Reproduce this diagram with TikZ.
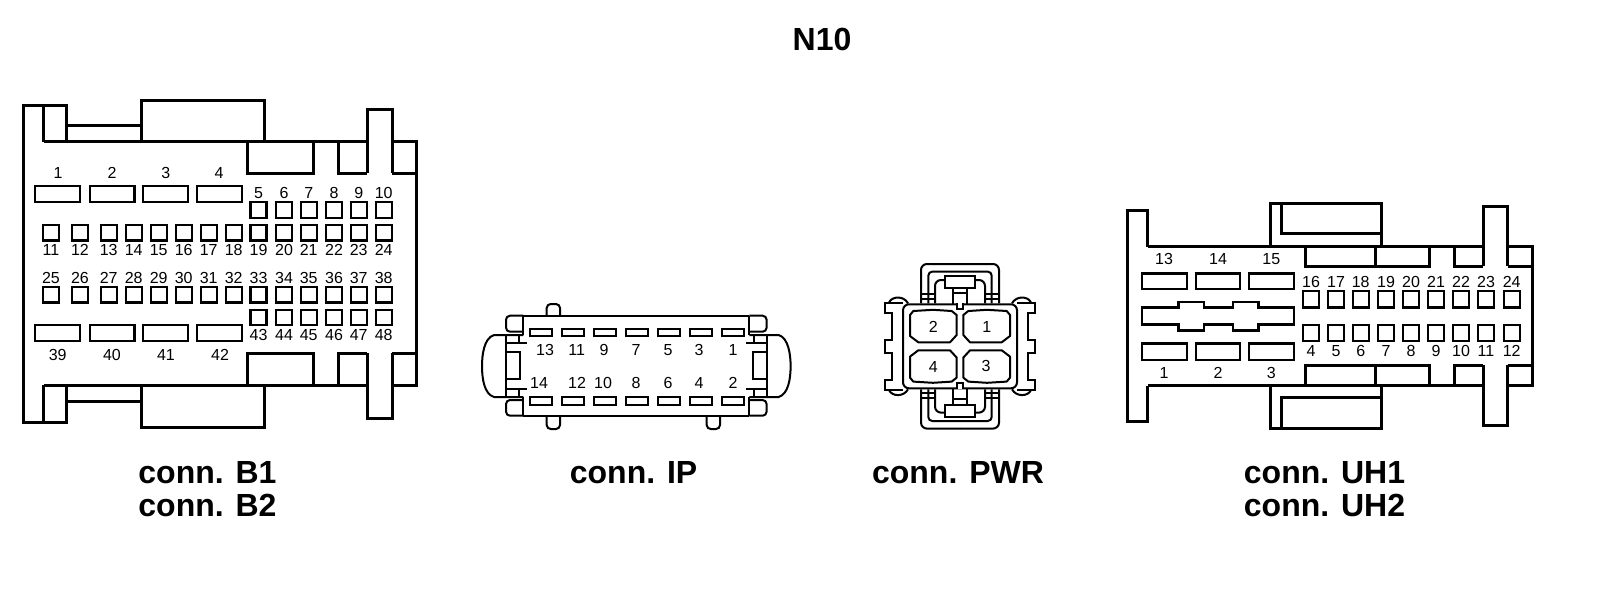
\documentclass[tikz,border=0pt]{standalone}
\usepackage{fontspec}
\setmainfont{Liberation Sans}

\tikzset{
  heavy/.style={line width=1.5pt, line join=miter},
  medium/.style={line width=1pt},
  slot/.style={line width=1.2pt, fill=white},
  pinno/.style={font=\fontsize{8}{8}\selectfont, inner sep=0pt},
  connname/.style={font=\fontsize{16}{16}\selectfont\bfseries, inner sep=0pt}
}

% one end of the IP shell, mirrored for the other end
\newcommand{\ipend}{
  \draw[medium, rounded corners=2pt] (523.3,331.7) -- (506,331.7) -- (506,315.7) -- (523.3,315.7);
  \draw[medium, rounded corners=2pt] (523.3,400) -- (506,400) -- (506,415.7) -- (523.3,415.7);
  \draw[medium] (523.3,315.7) -- (636.3,315.7);
  \draw[medium] (523.3,415.7) -- (636.3,415.7);
  \draw[medium] (523.3,315.7) -- (523.3,335);
  \draw[medium] (523.3,397) -- (523.3,415.7);
  \draw[medium] (506,335) -- (506,397);
  \draw[medium] (523.3,335) -- (494,335) .. controls (484,338) and (482,355) .. (482,366)
    .. controls (482,378) and (484,394) .. (494,397) -- (523.3,397);
  \draw[medium] (519,335) -- (519,343.3);
  \draw[medium] (506,343.3) -- (526.7,343.3);
  \draw[medium] (506,351.7) -- (520,351.7) -- (520,379.3) -- (506,379.3);
  \draw[medium] (506,389) -- (526.7,389);
  \draw[medium] (519,389) -- (519,397);
}

% one quarter of the PWR shell, around its centre
\newcommand{\pwrquarter}{
  \draw[medium] (-75,0) -- (-75,-6.3) -- (-68.3,-6.3) -- (-68.3,-33.7) -- (-75,-33.7) -- (-75,-43.7) -- (-57,-43.7);
  \draw[medium] (-71,-43.7) .. controls (-68,-50.6) and (-56,-50.6) .. (-52,-43);
  \draw[medium, rounded corners=3pt] (-39,-43) -- (-39,-82.3) -- (0,-82.3);
  \draw[medium, rounded corners=2pt] (-31.7,-43) -- (-31.7,-74.7) -- (0,-74.7);
  \draw[medium, rounded corners=3pt] (-25,-43) -- (-25,-66.3) -- (-15,-66.3);
  \draw[medium] (-39,-52) -- (-25,-52);
  \draw[medium] (-39,-47) -- (-25,-47);
  \draw[medium] (0,-70.3) -- (-15,-70.3) -- (-15,-58.7) -- (0,-58.7);
  \draw[medium] (-7.3,-58.7) -- (-7.3,-42);
  \draw[medium] (-7.3,-53) -- (0,-53);
}

\newcommand{\pwrcavity}{
  \draw[medium, line join=round] (-50,-31.3) -- (-46.7,-35.3) -- (-27,-36.5) -- (-8.3,-35.3) -- (-3.3,-31.3)
    -- (-3.3,-11.3) -- (-10,-4) -- (-41.7,-4) -- (-50,-10.3) -- cycle;
}

\begin{document}
\begin{tikzpicture}[x=0.5pt,y=-0.5pt]
\useasboundingbox (0,0) rectangle (1600,606);

\node[connname] (title) at (822,39) {N10};

% conn. B
\draw[heavy] (43.5,141.7) -- (416.7,141.7) -- (416.7,385) -- (43.5,385);
\draw[heavy] (43.5,141.7) -- (43.5,105);
\draw[heavy] (66,141.7) -- (66,105) -- (23.5,105) -- (23.5,422) -- (66,422) -- (66,385);
\draw[heavy] (43.5,385) -- (43.5,422);
\draw[heavy] (66,125) -- (141.7,125);
\draw[heavy] (66,401.7) -- (141.7,401.7);
\draw[heavy] (141.7,141.7) -- (141.7,100) -- (264,100) -- (264,141.7);
\draw[heavy] (141.7,385) -- (141.7,427) -- (264,427) -- (264,385);
\draw[heavy] (247,141.7) -- (247,173) -- (313.7,173) -- (313.7,141.7);
\draw[heavy] (247,385) -- (247,353) -- (313.7,353) -- (313.7,385);
\draw[heavy] (338,141.7) -- (338,173) -- (367,173);
\draw[heavy] (338,385) -- (338,353) -- (367,353);
\draw[heavy] (392,173) -- (416.7,173);
\draw[heavy] (392,353) -- (416.7,353);
\draw[heavy, fill=white] (367,173) -- (367,109) -- (392,109) -- (392,173);
\draw[heavy, fill=white] (367,353) -- (367,418) -- (392,418) -- (392,353);

\draw[slot] (35,186) rectangle (80,202);
\draw[slot] (90,186) rectangle (134.5,202);
\draw[slot] (143,186) rectangle (188,202);
\draw[slot] (197,186) rectangle (242,202);
\draw[slot] (35,325) rectangle (80,341);
\draw[slot] (90,325) rectangle (134.5,341);
\draw[slot] (143,325) rectangle (188,341);
\draw[slot] (197,325) rectangle (242,341);

\draw[slot] (250.5,201.7) rectangle ++(16,16);
\draw[slot] (276,201.7) rectangle ++(16,16);
\draw[slot] (300.7,201.7) rectangle ++(16,16);
\draw[slot] (326,201.7) rectangle ++(16,16);
\draw[slot] (350.7,201.7) rectangle ++(16,16);
\draw[slot] (375.7,201.7) rectangle ++(16,16);

\draw[slot] (43,225) rectangle ++(16,15.5);
\draw[slot] (72,225) rectangle ++(16,15.5);
\draw[slot] (100.7,225) rectangle ++(16,15.5);
\draw[slot] (125.7,225) rectangle ++(16,15.5);
\draw[slot] (150.7,225) rectangle ++(16,15.5);
\draw[slot] (175.7,225) rectangle ++(16,15.5);
\draw[slot] (200.7,225) rectangle ++(16,15.5);
\draw[slot] (225.7,225) rectangle ++(16,15.5);
\draw[slot] (250.5,225) rectangle ++(16,15.5);
\draw[slot] (276,225) rectangle ++(16,15.5);
\draw[slot] (300.7,225) rectangle ++(16,15.5);
\draw[slot] (326,225) rectangle ++(16,15.5);
\draw[slot] (350.7,225) rectangle ++(16,15.5);
\draw[slot] (375.7,225) rectangle ++(16,15.5);

\draw[slot] (43,287) rectangle ++(16,15.5);
\draw[slot] (72,287) rectangle ++(16,15.5);
\draw[slot] (100.7,287) rectangle ++(16,15.5);
\draw[slot] (125.7,287) rectangle ++(16,15.5);
\draw[slot] (150.7,287) rectangle ++(16,15.5);
\draw[slot] (175.7,287) rectangle ++(16,15.5);
\draw[slot] (200.7,287) rectangle ++(16,15.5);
\draw[slot] (225.7,287) rectangle ++(16,15.5);
\draw[slot] (250.5,287) rectangle ++(16,15.5);
\draw[slot] (276,287) rectangle ++(16,15.5);
\draw[slot] (300.7,287) rectangle ++(16,15.5);
\draw[slot] (326,287) rectangle ++(16,15.5);
\draw[slot] (350.7,287) rectangle ++(16,15.5);
\draw[slot] (375.7,287) rectangle ++(16,15.5);

\draw[slot] (250.5,310) rectangle ++(16,15);
\draw[slot] (276,310) rectangle ++(16,15);
\draw[slot] (300.7,310) rectangle ++(16,15);
\draw[slot] (326,310) rectangle ++(16,15);
\draw[slot] (350.7,310) rectangle ++(16,15);
\draw[slot] (375.7,310) rectangle ++(16,15);

\node[pinno] (b1) at (58,173) {1};
\node[pinno] (b2) at (112,173) {2};
\node[pinno] (b3) at (165.7,173) {3};
\node[pinno] (b4) at (219,173) {4};
\node[pinno] (b5) at (258.5,192.7) {5};
\node[pinno] (b6) at (284,192.7) {6};
\node[pinno] (b7) at (308.7,192.7) {7};
\node[pinno] (b8) at (334,192.7) {8};
\node[pinno] (b9) at (358.7,192.7) {9};
\node[pinno] (b10) at (383.7,192.7) {10};
\node[pinno] (b11) at (51,250) {11};
\node[pinno] (b12) at (80,250) {12};
\node[pinno] (b13) at (108.7,250) {13};
\node[pinno] (b14) at (133.7,250) {14};
\node[pinno] (b15) at (158.7,250) {15};
\node[pinno] (b16) at (183.7,250) {16};
\node[pinno] (b17) at (208.7,250) {17};
\node[pinno] (b18) at (233.7,250) {18};
\node[pinno] (b19) at (258.5,250) {19};
\node[pinno] (b20) at (284,250) {20};
\node[pinno] (b21) at (308.7,250) {21};
\node[pinno] (b22) at (334,250) {22};
\node[pinno] (b23) at (358.7,250) {23};
\node[pinno] (b24) at (383.7,250) {24};
\node[pinno] (b25) at (51,278) {25};
\node[pinno] (b26) at (80,278) {26};
\node[pinno] (b27) at (108.7,278) {27};
\node[pinno] (b28) at (133.7,278) {28};
\node[pinno] (b29) at (158.7,278) {29};
\node[pinno] (b30) at (183.7,278) {30};
\node[pinno] (b31) at (208.7,278) {31};
\node[pinno] (b32) at (233.7,278) {32};
\node[pinno] (b33) at (258.5,278) {33};
\node[pinno] (b34) at (284,278) {34};
\node[pinno] (b35) at (308.7,278) {35};
\node[pinno] (b36) at (334,278) {36};
\node[pinno] (b37) at (358.7,278) {37};
\node[pinno] (b38) at (383.7,278) {38};
\node[pinno] (b39) at (57.7,355) {39};
\node[pinno] (b40) at (112,355) {40};
\node[pinno] (b41) at (166,355) {41};
\node[pinno] (b42) at (220,355) {42};
\node[pinno] (b43) at (258.5,335) {43};
\node[pinno] (b44) at (284,335) {44};
\node[pinno] (b45) at (308.7,335) {45};
\node[pinno] (b46) at (334,335) {46};
\node[pinno] (b47) at (358.7,335) {47};
\node[pinno] (b48) at (383.7,335) {48};

\node[connname] (connb1) at (207.5,473) {conn. B1};
\node[connname] (connb2) at (207.5,505) {conn. B2};

% conn. IP
\draw[medium, rounded corners=2pt] (546.7,315.7) -- (546.7,304) -- (560,304) -- (560,315.7);
\draw[medium, rounded corners=2pt] (546.7,415.7) -- (546.7,429) -- (560,429) -- (560,415.7);
\draw[medium, rounded corners=2pt] (706.7,415.7) -- (706.7,429) -- (720,429) -- (720,415.7);
\ipend
\begin{scope}[shift={(1272.6,0)},xscale=-1]
\ipend
\end{scope}

\draw[medium] (530,329) rectangle ++(21.7,6.7);
\draw[medium] (562,329) rectangle ++(21.7,6.7);
\draw[medium] (594,329) rectangle ++(21.7,6.7);
\draw[medium] (626,329) rectangle ++(21.7,6.7);
\draw[medium] (658,329) rectangle ++(21.7,6.7);
\draw[medium] (690,329) rectangle ++(21.7,6.7);
\draw[medium] (722,329) rectangle ++(21.7,6.7);
\draw[medium] (530,396.7) rectangle ++(21.7,8.3);
\draw[medium] (562,396.7) rectangle ++(21.7,8.3);
\draw[medium] (594,396.7) rectangle ++(21.7,8.3);
\draw[medium] (626,396.7) rectangle ++(21.7,8.3);
\draw[medium] (658,396.7) rectangle ++(21.7,8.3);
\draw[medium] (690,396.7) rectangle ++(21.7,8.3);
\draw[medium] (722,396.7) rectangle ++(21.7,8.3);

\node[pinno] (ip13) at (545,350) {13};
\node[pinno] (ip11) at (576.7,350) {11};
\node[pinno] (ip9) at (604,350) {9};
\node[pinno] (ip7) at (636,350) {7};
\node[pinno] (ip5) at (668,350) {5};
\node[pinno] (ip3) at (699,350) {3};
\node[pinno] (ip1) at (733,350) {1};
\node[pinno] (ip14) at (539,383) {14};
\node[pinno] (ip12) at (577,383) {12};
\node[pinno] (ip10) at (603,383) {10};
\node[pinno] (ip8) at (636,383) {8};
\node[pinno] (ip6) at (668,383) {6};
\node[pinno] (ip4) at (699,383) {4};
\node[pinno] (ip2) at (733,383) {2};

\node[connname] (connip) at (633.6,473) {conn. IP};

% conn. PWR
\begin{scope}[shift={(960,346.3)}]
\pwrquarter
\begin{scope}[xscale=-1] \pwrquarter \end{scope}
\begin{scope}[yscale=-1] \pwrquarter \end{scope}
\begin{scope}[xscale=-1,yscale=-1] \pwrquarter \end{scope}
\draw[medium, fill=white, rounded corners=3pt] (-57,-42) rectangle (57,42);
\fill[white] (-2.8,-43) rectangle (2.8,-37.5);
\fill[white] (-2.8,43) rectangle (2.8,37.5);
\draw[medium] (-3.3,-43) -- (-3.3,-37) -- (3.3,-37) -- (3.3,-43);
\draw[medium] (-3.3,43) -- (-3.3,37) -- (3.3,37) -- (3.3,43);
\pwrcavity
\begin{scope}[xscale=-1] \pwrcavity \end{scope}
\begin{scope}[yscale=-1] \pwrcavity \end{scope}
\begin{scope}[xscale=-1,yscale=-1] \pwrcavity \end{scope}
\end{scope}

\node[pinno] (pwr2) at (933.3,326.7) {2};
\node[pinno] (pwr1) at (986.7,326.7) {1};
\node[pinno] (pwr4) at (933.3,366.7) {4};
\node[pinno] (pwr3) at (986,366) {3};

\node[connname] (connpwr) at (958,473) {conn. PWR};

% conn. UH
\draw[heavy] (1147.7,246.7) -- (1532.3,246.7) -- (1532.3,385.7) -- (1147.7,385.7);
\draw[heavy] (1147.7,246.7) -- (1147.7,210) -- (1127.7,210) -- (1127.7,421) -- (1147.7,421) -- (1147.7,385.7);
\draw[heavy] (1270,246.7) -- (1270,203.3) -- (1381,203.3) -- (1381,246.7);
\draw[heavy] (1281.7,203.3) -- (1281.7,233.3) -- (1381,233.3);
\draw[heavy] (1270,385.7) -- (1270,428.3) -- (1381,428.3) -- (1381,385.7);
\draw[heavy] (1281.7,428.3) -- (1281.7,397.3) -- (1381,397.3);
\draw[heavy] (1305.7,246.7) -- (1305.7,266) -- (1429.3,266) -- (1429.3,246.7);
\draw[heavy] (1375.7,246.7) -- (1375.7,266);
\draw[heavy] (1305.7,385.7) -- (1305.7,365) -- (1429.3,365) -- (1429.3,385.7);
\draw[heavy] (1375.7,385.7) -- (1375.7,365);
\draw[heavy] (1454,246.7) -- (1454,266) -- (1483.3,266);
\draw[heavy] (1454,385.7) -- (1454,365) -- (1483.3,365);
\draw[heavy] (1507.7,266) -- (1532.3,266);
\draw[heavy] (1507.7,365) -- (1532.3,365);
\draw[heavy, fill=white] (1483.3,266) -- (1483.3,206) -- (1507.7,206) -- (1507.7,266);
\draw[heavy, fill=white] (1483.3,365) -- (1483.3,425.7) -- (1507.7,425.7) -- (1507.7,365);

\draw[slot] (1141.7,273.3) rectangle (1186.7,289);
\draw[slot] (1195.7,273.3) rectangle (1240,289);
\draw[slot] (1249,273.3) rectangle (1294,289);
\draw[slot] (1141.7,343.3) rectangle (1186.7,360);
\draw[slot] (1195.7,343.3) rectangle (1240,360);
\draw[slot] (1249,343.3) rectangle (1294,360);
\draw[slot] (1141.7,307.3) -- (1178.3,307.3) -- (1178.3,301.7) -- (1204,301.7) -- (1204,307.3) -- (1232.7,307.3)
  -- (1232.7,301.7) -- (1258.3,301.7) -- (1258.3,307.3) -- (1294,307.3) -- (1294,324.3) -- (1258.3,324.3)
  -- (1258.3,330.3) -- (1232.7,330.3) -- (1232.7,324.3) -- (1204,324.3) -- (1204,330.3) -- (1178.3,330.3)
  -- (1178.3,324.3) -- (1141.7,324.3) -- cycle;

\draw[slot] (1303,291) rectangle ++(16,16.3);
\draw[slot] (1328,291) rectangle ++(16,16.3);
\draw[slot] (1352.7,291) rectangle ++(16,16.3);
\draw[slot] (1378,291) rectangle ++(16,16.3);
\draw[slot] (1403,291) rectangle ++(16,16.3);
\draw[slot] (1428,291) rectangle ++(16,16.3);
\draw[slot] (1453,291) rectangle ++(16,16.3);
\draw[slot] (1478,291) rectangle ++(16,16.3);
\draw[slot] (1503.7,291) rectangle ++(16,16.3);
\draw[slot] (1303,325) rectangle ++(16,15.7);
\draw[slot] (1328,325) rectangle ++(16,15.7);
\draw[slot] (1352.7,325) rectangle ++(16,15.7);
\draw[slot] (1378,325) rectangle ++(16,15.7);
\draw[slot] (1403,325) rectangle ++(16,15.7);
\draw[slot] (1428,325) rectangle ++(16,15.7);
\draw[slot] (1453,325) rectangle ++(16,15.7);
\draw[slot] (1478,325) rectangle ++(16,15.7);
\draw[slot] (1503.7,325) rectangle ++(16,15.7);

\node[pinno] (uh1) at (1164,372.7) {1};
\node[pinno] (uh2) at (1218,372.7) {2};
\node[pinno] (uh3) at (1271.3,372.7) {3};
\node[pinno] (uh4) at (1311,350.7) {4};
\node[pinno] (uh5) at (1336,350.7) {5};
\node[pinno] (uh6) at (1360.7,350.7) {6};
\node[pinno] (uh7) at (1386,350.7) {7};
\node[pinno] (uh8) at (1411,350.7) {8};
\node[pinno] (uh9) at (1436,350.7) {9};
\node[pinno] (uh10) at (1461,350.7) {10};
\node[pinno] (uh11) at (1486,350.7) {11};
\node[pinno] (uh12) at (1511.7,350.7) {12};
\node[pinno] (uh13) at (1164,259.3) {13};
\node[pinno] (uh14) at (1218,259.3) {14};
\node[pinno] (uh15) at (1271.3,259.3) {15};
\node[pinno] (uh16) at (1311,281.7) {16};
\node[pinno] (uh17) at (1336,281.7) {17};
\node[pinno] (uh18) at (1360.7,281.7) {18};
\node[pinno] (uh19) at (1386,281.7) {19};
\node[pinno] (uh20) at (1411,281.7) {20};
\node[pinno] (uh21) at (1436,281.7) {21};
\node[pinno] (uh22) at (1461,281.7) {22};
\node[pinno] (uh23) at (1486,281.7) {23};
\node[pinno] (uh24) at (1511.7,281.7) {24};

\node[connname] (connuh1) at (1324.5,473) {conn. UH1};
\node[connname] (connuh2) at (1324.5,505) {conn. UH2};
\end{tikzpicture}
\end{document}
